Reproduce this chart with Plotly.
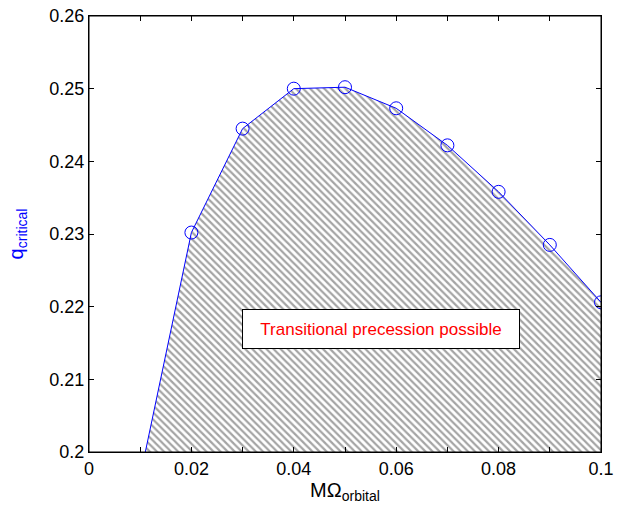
import plotly.graph_objects as go

x_vals = [0.011, 0.02, 0.03, 0.04, 0.05, 0.06, 0.07, 0.08, 0.09, 0.1]
q_vals = [0.2, 0.2302, 0.2445, 0.2500, 0.2502, 0.2473, 0.2422, 0.2358, 0.2285, 0.2206]
marker_x = x_vals[1:]
marker_q = q_vals[1:]

x_ticks = [0, 0.01, 0.02, 0.03, 0.04, 0.05, 0.06, 0.07, 0.08, 0.09, 0.1]
x_ticktext = ["0", "", "0.02", "", "0.04", "", "0.06", "", "0.08", "", "0.1"]
y_ticks = [0.2, 0.21, 0.22, 0.23, 0.24, 0.25, 0.26]
y_ticktext = ["0.2", "0.21", "0.22", "0.23", "0.24", "0.25", "0.26"]

fig = go.Figure()
fig.add_trace(go.Scatter(
    x=x_vals, y=q_vals, mode="lines", fill="tozeroy",
    fillcolor="rgba(255,255,255,0)",
    fillpattern=dict(shape="\\", fgcolor="#4a4a4a", bgcolor="white", size=5, solidity=0.45),
    line=dict(color="blue", width=1), showlegend=False, hoverinfo="skip"))
fig.add_trace(go.Scatter(
    x=marker_x, y=marker_q, mode="markers",
    marker=dict(symbol="circle-open", size=13, color="blue", line=dict(width=1, color="blue")),
    showlegend=False))

fig.add_annotation(
    x=0.0571, y=0.2169, xref="x", yref="y",
    text="Transitional precession possible", showarrow=False,
    font=dict(family="Liberation Sans, Arial", size=17, color="red"),
    bgcolor="white", bordercolor="black", borderwidth=1,
    width=274, height=36)

fig.add_shape(type="rect", xref="paper", yref="paper", x0=0, x1=1, y0=0, y1=1,
              line=dict(color="black", width=1), layer="above")

fig.update_layout(
    width=620, height=506,
    margin=dict(l=89, r=19, t=16, b=54),
    plot_bgcolor="white", paper_bgcolor="white",
    font=dict(family="Liberation Sans, Arial", size=18, color="black"),
    xaxis=dict(range=[0, 0.1], tickvals=x_ticks, ticktext=x_ticktext,
               ticks="inside", ticklen=5, tickcolor="black", automargin=False,
               ticklabeloverflow="allow",
               showline=True, linecolor="black", linewidth=1, mirror="allticks",
               showgrid=False, zeroline=False,
               title=dict(text="MΩ<sub>orbital</sub>", font=dict(size=20, color="black"), standoff=4)),
    yaxis=dict(range=[0.2, 0.26], tickvals=y_ticks, ticktext=y_ticktext,
               ticks="inside", ticklen=5, tickcolor="black", automargin=False,
               showline=True, linecolor="black", linewidth=1, mirror="allticks",
               showgrid=False, zeroline=False,
               title=dict(text="q<sub>critical</sub>", font=dict(size=20, color="blue"), standoff=20)),
)

fig.write_html("out.html",
               post_script=("document.documentElement.style.overflow='hidden';"
                            "document.body.style.overflow='hidden';"
                            "document.body.style.margin='0';"))
